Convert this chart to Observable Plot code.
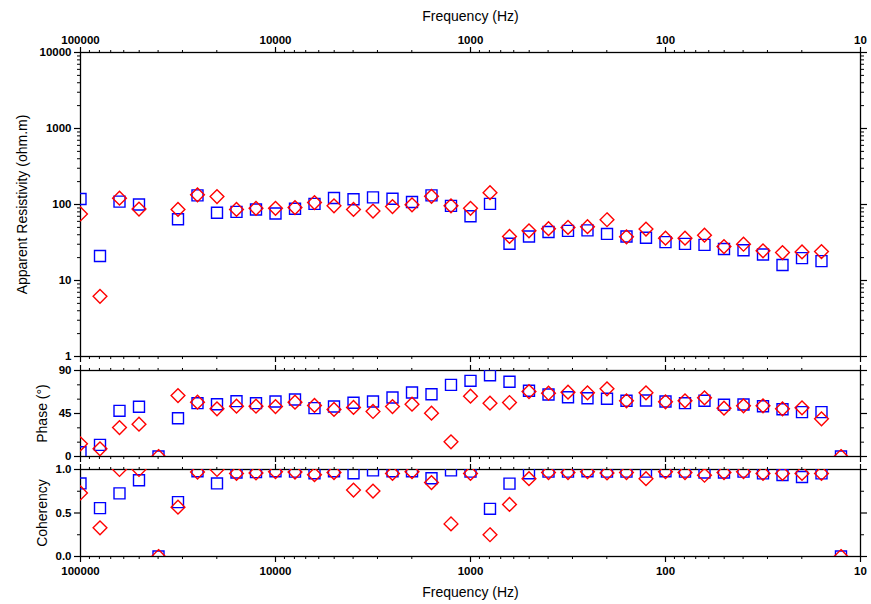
<!DOCTYPE html>
<html>
<head>
<meta charset="utf-8">
<script src="https://cdn.jsdelivr.net/npm/d3@7"></script>
<script src="https://cdn.jsdelivr.net/npm/@observablehq/plot@0.6"></script>
<style>
  body { margin: 0; background: #fff; }
  #chart { position: relative; width: 871px; height: 604px; }
  #chart > svg { position: absolute; left: 0; overflow: visible; }
</style>
</head>
<body>
<div id="chart"></div>
<script>
// Sounding frequencies (Hz), ten per decade
const freq = [100000, 79433, 63096, 50119, 39811, 31623, 25119, 19953, 15849, 12589,
              10000, 7943, 6310, 5012, 3981, 3162, 2512, 1995, 1585, 1259,
              1000, 794.3, 631.0, 501.2, 398.1, 316.2, 251.2, 199.5, 158.5, 125.9,
              100, 79.43, 63.10, 50.12, 39.81, 31.62, 25.12, 19.95, 15.85, 12.59];

// Apparent resistivity (ohm.m)
const rhoXY = [118, 21, 109, 100, null, 64, 132, 78, 80, 86,
               76, 88, 102, 122, 117, 124, 119, 108, 132, 96,
               70, 102, 30.5, 38, 43.4, 45, 45.6, 41, 38, 36.5,
               32, 30.3, 29.4, 26, 25, 22, 16, 19.7, 18, null];
const rhoYX = [75, 6.2, 121, 87, null, 86, 134, 127, 86, 89,
               89, 91, 106, 96, 86, 82, 94, 99, 128, 96,
               89, 143, 38, 45, 48, 50, 51, 63, 37.6, 47.5,
               36, 36, 39.5, 28, 30, 24.6, 23.3, 23.8, 24, null];

// Phase (degrees)
const phaseXY = [4.5, 12.2, 47.8, 52, 0, 40, 55.8, 54.7, 57.9, 55.8,
                 57.5, 59.6, 50.6, 52.3, 56.2, 57.5, 61.7, 67, 65.2, 75,
                 79.2, 85, 78.2, 68.8, 64.9, 62, 61, 60.4, 58.3, 58.6,
                 57.5, 55.8, 58.3, 54.1, 54.4, 52.6, 49.5, 46.4, 46.4, 0];
const phaseYX = [13.3, 8, 30.3, 33.8, 0, 63.8, 56.8, 49.9, 52.6, 52.6,
                 52.3, 56.8, 53.4, 49.2, 51.3, 47.1, 52.3, 54.7, 45.3, 15.4,
                 63.1, 55.8, 56.5, 68, 66.2, 67.3, 66.6, 70.8, 58.3, 66.6,
                 57.2, 58.3, 61.4, 50.6, 53, 53, 49.9, 51, 39.4, 0];

// Coherency
const cohXY = [0.84, 0.556, 0.726, 0.876, 0, 0.625, 0.98, 0.84, 0.965, 0.97,
               0.98, 0.975, 0.957, 0.98, 0.957, 0.99, 0.98, 0.98, 0.90, 0.99,
               0.975, 0.548, 0.838, 0.957, 0.975, 0.975, 0.98, 0.975, 0.975, 0.975,
               0.98, 0.975, 0.965, 0.965, 0.975, 0.955, 0.937, 0.914, 0.955, 0];
const cohYX = [0.73, 0.33, 1.0, 1.0, 0, 0.567, 0.97, 1.0, 0.955, 0.96,
               0.975, 0.97, 0.94, 0.965, 0.764, 0.752, 0.955, 0.975, 0.85, 0.375,
               0.955, 0.25, 0.598, 0.895, 0.965, 0.965, 0.975, 0.96, 0.965, 0.895,
               0.975, 0.965, 0.934, 0.965, 0.975, 0.955, 0.955, 0.955, 0.955, 0];

// Tick values
const freqMajor = [100000, 10000, 1000, 100, 10];
const freqMinor = [10, 100, 1000, 10000].flatMap(d => [2, 3, 4, 5, 6, 7, 8, 9].map(m => m * d));
const rhoMajor = [1, 10, 100, 1000, 10000];
const rhoMinor = [1, 10, 100, 1000].flatMap(d => [2, 3, 4, 5, 6, 7, 8, 9].map(m => m * d));
const phaseMajor = [0, 45, 90];
const phaseMinor = [15, 30, 60, 75];
const cohMajor = [0, 0.5, 1];
const cohMinor = [0.25, 0.75];

const xLabel = "Frequency (Hz)";
const blank = () => "";

function panel({top, height, marginTop, marginBottom, yScale, values, yMajor, yMinor, yFormat, yLabel, yLabelDx, topLabels, bottomLabels}) {
  const rows = freq.map((f, i) => ({f, a: values[0][i], b: values[1][i]}));
  const marks = [
    Plot.frame({stroke: "black", strokeWidth: 1.3}),
    // frequency axes, top and bottom
    Plot.axisX({anchor: "top", ticks: freqMajor, tickSize: 6, tickPadding: 3, tickFormat: topLabels ? d => String(d) : blank, label: null, strokeWidth: 1.2}),
    Plot.axisX({anchor: "top", ticks: freqMinor, tickSize: 3, tickFormat: blank, label: null}),
    Plot.axisX({anchor: "bottom", ticks: freqMajor, tickSize: 6, tickPadding: 4, tickFormat: bottomLabels ? d => String(d) : blank, label: null, strokeWidth: 1.2}),
    Plot.axisX({anchor: "bottom", ticks: freqMinor, tickSize: 3, tickFormat: blank, label: null}),
    // value axes, left and right
    Plot.axisY({anchor: "left", ticks: yMajor, tickSize: 6, tickPadding: 3, tickFormat: yFormat, label: null, strokeWidth: 1.2}),
    Plot.axisY({anchor: "left", ticks: yMinor, tickSize: 3, tickFormat: blank, label: null}),
    Plot.axisY({anchor: "right", ticks: yMajor, tickSize: 6, tickFormat: blank, label: null, strokeWidth: 1.2}),
    Plot.axisY({anchor: "right", ticks: yMinor, tickSize: 3, tickFormat: blank, label: null}),
    Plot.text([yLabel], {frameAnchor: "left", dx: yLabelDx, rotate: -90, textAnchor: "middle", lineAnchor: "middle", fontSize: 14, fontWeight: "normal", fill: "black"}),
    Plot.dot(rows, {filter: d => d.a != null, x: "f", y: "a", symbol: "square", r: 6.2, fill: "none", stroke: "#0000ff", strokeWidth: 1.4, clip: true}),
    Plot.dot(rows, {filter: d => d.b != null, x: "f", y: "b", symbol: "diamond2", r: 6.2, fill: "none", stroke: "#ff0000", strokeWidth: 1.4, clip: true})
  ];
  if (topLabels) marks.push(Plot.text([xLabel], {frameAnchor: "top", dy: -36, textAnchor: "middle", lineAnchor: "middle", fontSize: 14, fontWeight: "normal", fill: "black"}));
  if (bottomLabels) marks.push(Plot.text([xLabel], {frameAnchor: "bottom", dy: 36, textAnchor: "middle", lineAnchor: "middle", fontSize: 14, fontWeight: "normal", fill: "black"}));

  const svg = Plot.plot({
    width: 871,
    height,
    marginTop,
    marginBottom,
    marginLeft: 80,
    marginRight: 11,
    style: {fontFamily: "'Liberation Sans', Arial, sans-serif", fontSize: "11.5px", fontWeight: "bold", color: "black", background: "transparent"},
    x: {type: "log", domain: [100000, 10]},
    y: yScale,
    marks
  });
  svg.style.top = top + "px";
  return svg;
}

const chart = document.getElementById("chart");

chart.append(panel({
  top: 0, height: 363, marginTop: 52, marginBottom: 7,
  yScale: {type: "log", domain: [1, 10000]},
  values: [rhoXY, rhoYX],
  yMajor: rhoMajor, yMinor: rhoMinor, yFormat: d => String(d),
  yLabel: "Apparent Resistivity (ohm.m)", yLabelDx: -58,
  topLabels: true, bottomLabels: false
}));

chart.append(panel({
  top: 363, height: 100, marginTop: 7, marginBottom: 7,
  yScale: {type: "linear", domain: [0, 90]},
  values: [phaseXY, phaseYX],
  yMajor: phaseMajor, yMinor: phaseMinor, yFormat: d => String(d),
  yLabel: "Phase (°)", yLabelDx: -38,
  topLabels: false, bottomLabels: false
}));

chart.append(panel({
  top: 463, height: 141, marginTop: 6, marginBottom: 48,
  yScale: {type: "linear", domain: [0, 1]},
  values: [cohXY, cohYX],
  yMajor: cohMajor, yMinor: cohMinor, yFormat: d3.format(".1f"),
  yLabel: "Coherency", yLabelDx: -38,
  topLabels: false, bottomLabels: true
}));
</script>
</body>
</html>
